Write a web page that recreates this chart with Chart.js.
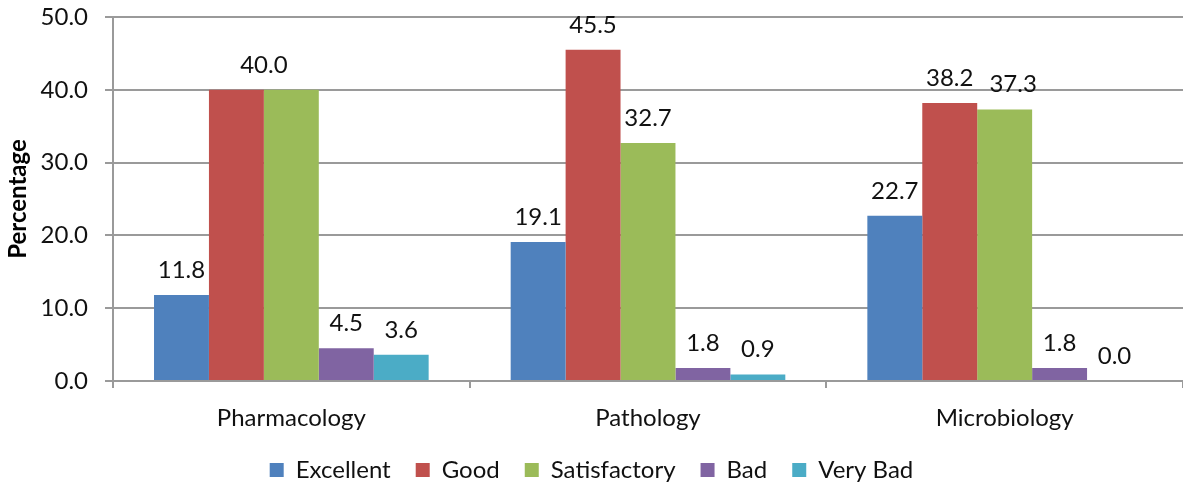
<!DOCTYPE html>
<html>
<head>
<meta charset="utf-8">
<script src="https://cdn.jsdelivr.net/npm/chart.js@4/dist/chart.umd.min.js"></script>
<style>
  html, body { margin: 0; padding: 0; background: #fff; }
  #wrap { width: 1183px; height: 489px; }
</style>
</head>
<body>
<div id="wrap"><canvas id="chart"></canvas></div>
<script>
// ---- data ----
const subjects = ["Pharmacology", "Pathology", "Microbiology"];
const excellent = [11.8, 19.1, 22.7];
const good = [40.0, 45.5, 38.2];
const satisfactory = [40.0, 32.7, 37.3];
const bad = [4.5, 1.8, 1.8];
const veryBad = [3.6, 0.9, 0.0];

const FONT = "Lato, 'Liberation Sans', sans-serif";
const GRID = "#9a9a9a";
const TEXT = "#111";

// value labels above the bars (neighbouring labels that collide get merged / nudged)
const barLabels = {
    id: "barLabels",
    afterDatasetsDraw(chart) {
        const ctx = chart.ctx;
        ctx.save();
        ctx.font = "24px " + FONT;
        ctx.fillStyle = TEXT;
        ctx.textAlign = "center";
        ctx.textBaseline = "alphabetic";
        const n = chart.data.labels.length;
        for (let j = 0; j < n; j++) {
            let prev = null;
            chart.data.datasets.forEach((ds, i) => {
                const bar = chart.getDatasetMeta(i).data[j];
                const txt = ds.data[j].toFixed(1);
                const w = ctx.measureText(txt).width;
                let x = bar.x, y = bar.y - 17;
                if (prev && Math.abs(prev.y - y) < 22) {
                    if (prev.txt === txt) {
                        prev.x = (prev.x + x) / 2;
                        return;
                    }
                    const gap = (x - w / 2) - (prev.x + prev.w / 2);
                    if (gap < 16) x += 16 - gap;
                }
                if (prev) ctx.fillText(prev.txt, prev.x, prev.y);
                prev = { txt, x, y, w };
            });
            if (prev) ctx.fillText(prev.txt, prev.x, prev.y);
        }
        ctx.restore();
    }
};

new Chart(document.getElementById("chart"), {
    type: "bar",
    data: {
        labels: subjects,
        datasets: [
            { label: "Excellent", data: excellent, backgroundColor: "#4F81BD" },
            { label: "Good", data: good, backgroundColor: "#C0504D" },
            { label: "Satisfactory", data: satisfactory, backgroundColor: "#9BBB59" },
            { label: "Bad", data: bad, backgroundColor: "#8064A2" },
            { label: "Very Bad", data: veryBad, backgroundColor: "#4BACC6" }
        ]
    },
    options: {
        responsive: true,
        maintainAspectRatio: false,
        animation: false,
        categoryPercentage: 0.77,
        barPercentage: 1.0,
        layout: { padding: { top: 17, right: 0, left: 0, bottom: -3 } },
        plugins: {
            legend: {
                position: "bottom",
                labels: {
                    boxWidth: 14,
                    boxHeight: 14,
                    padding: 25,
                    color: TEXT,
                    font: { family: FONT, size: 24, lineHeight: 1 }
                }
            },
            tooltip: { enabled: false }
        },
        scales: {
            x: {
                afterFit(scale) {
                    scale.height = 52;
                    scale.paddingLeft = 0;
                    scale.paddingRight = 0;
                },
                grid: {
                    offset: true,
                    drawOnChartArea: false,
                    drawTicks: true,
                    tickLength: 7,
                    color: GRID,
                    lineWidth: 2
                },
                border: { color: GRID, width: 2 },
                ticks: {
                    color: TEXT,
                    padding: 16,
                    font: { family: FONT, size: 24 }
                }
            },
            y: {
                min: 0,
                max: 50,
                afterFit(scale) {
                    scale.width = 113;
                    scale.paddingTop = 0;
                    scale.paddingBottom = 0;
                },
                ticks: {
                    stepSize: 10,
                    padding: 17,
                    color: TEXT,
                    font: { family: FONT, size: 24 },
                    callback: v => v.toFixed(1)
                },
                grid: { color: GRID, lineWidth: 2, tickLength: 8 },
                border: { color: GRID, width: 2 },
                title: {
                    display: true,
                    text: "Percentage",
                    color: "#000",
                    padding: 4,
                    font: { family: FONT, size: 24, weight: "bold" }
                }
            }
        }
    },
    plugins: [barLabels]
});
</script>
</body>
</html>
